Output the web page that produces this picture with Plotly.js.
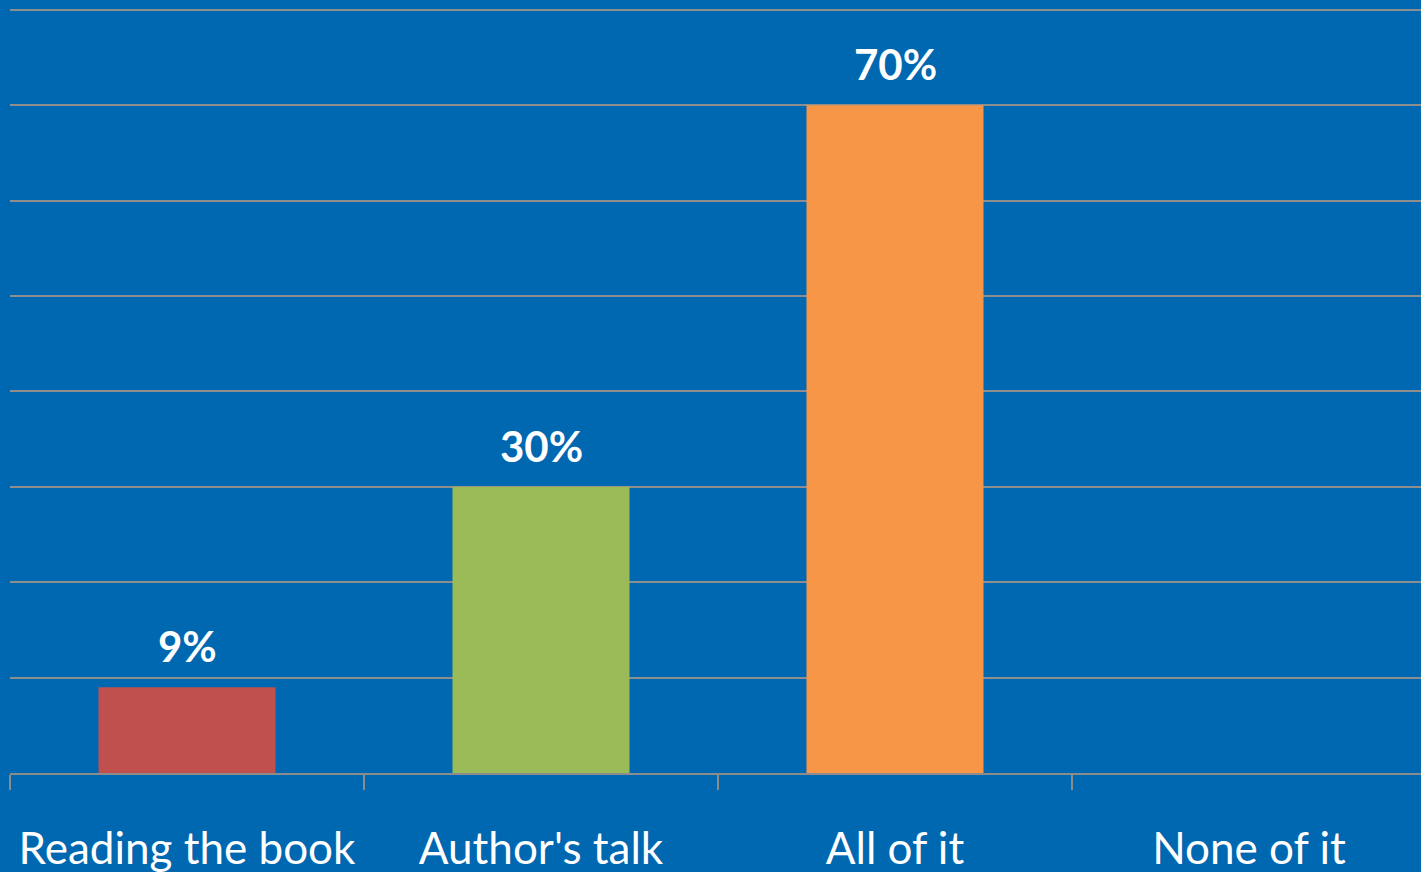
<!DOCTYPE html>
<html>
<head>
<meta charset="utf-8">
<script src="https://cdn.plot.ly/plotly-3.0.1.min.js"></script>
<style>
html, body { margin: 0; padding: 0; overflow: hidden; background: #0067B1; }
#chart { width: 1430px; height: 872px; }
</style>
</head>
<body>
<div id="chart"></div>
<script>
const categories = ["Reading the book", "Author's talk", "All of it", "None of it"];
const values = [9, 30, 70, 0];
const labels = ["9%", "30%", "70%", ""];
const barColors = ["#C0504D", "#9BBB59", "#F79646", "#4F81BD"];

const trace = {
  type: 'bar',
  x: categories,
  y: values,
  width: 0.5,
  marker: { color: barColors },
  hoverinfo: 'none',
  cliponaxis: false
};

const annotations = categories.map((c, i) => ({
  x: c, y: values[i], text: labels[i], showarrow: false,
  xanchor: 'center', yanchor: 'bottom', yshift: 14,
  font: { family: 'Lato, sans-serif', size: 42, color: '#FFFFFF', weight: 'bold' }
})).filter(a => a.text !== "");

const layout = {
  width: 1430, height: 872,
  margin: { l: 10, r: 4, t: 8, b: 99, pad: 0 },
  paper_bgcolor: '#0067B1',
  plot_bgcolor: '#0067B1',
  showlegend: false,
  bargap: 0.5,
  xaxis: {
    showline: true, linecolor: '#8C8C8C', linewidth: 2,
    ticks: 'outside', tickson: 'boundaries', ticklen: 15, tickcolor: '#8C8C8C', tickwidth: 2,
    showgrid: false,
    tickfont: { family: 'Lato, sans-serif', size: 44, color: '#FFFFFF' },
    ticklabelstandoff: 36
  },
  yaxis: {
    range: [0, 80.2], tickmode: 'linear', tick0: 0, dtick: 10,
    showticklabels: false, showgrid: true, gridcolor: '#8E8E8E', gridwidth: 2,
    zeroline: false, showline: false, fixedrange: true
  },
  annotations: annotations
};

Plotly.newPlot('chart', [trace], layout, { displayModeBar: false, staticPlot: true });
</script>
</body>
</html>
